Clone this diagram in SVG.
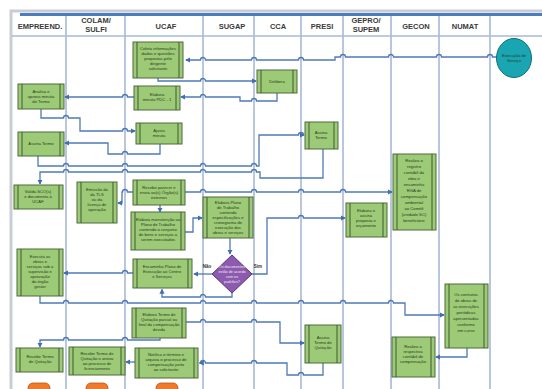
<svg xmlns="http://www.w3.org/2000/svg" width="542" height="389" viewBox="0 0 542 389">
<defs>
<style>
.lane{stroke:#a7bad6;stroke-width:1.6;fill:none}
.hd{font-family:"Liberation Sans",Arial,sans-serif;font-size:7.5px;font-weight:bold;fill:#3a3a3a;text-anchor:middle}
.box{fill:#9cca76;stroke:#4f6b3c;stroke-width:1}
.bar{stroke:#3f5a2f;stroke-width:1}
.t{font-family:"Liberation Sans",Arial,sans-serif;font-size:4.2px;fill:#2a3a20;text-anchor:middle}
.dt{font-family:"Liberation Sans",Arial,sans-serif;font-size:3.8px;fill:#efe6f5;text-anchor:middle}
.c{stroke:#4f79b5;stroke-width:1.3;fill:none;marker-end:url(#ah)}
.lbl{font-family:"Liberation Sans",Arial,sans-serif;font-size:4.5px;font-weight:bold;fill:#333;text-anchor:middle}
</style>
<marker id="ah" viewBox="0 0 6 6" refX="5" refY="3" markerWidth="4" markerHeight="4" orient="auto">
<path d="M0,0 L6,3 L0,6 z" fill="#3f6fb0"/>
</marker>
</defs>
<rect x="0" y="0" width="542" height="389" fill="#ffffff"/>
<!-- frame -->
<rect x="11" y="11" width="533" height="382" fill="#ffffff" stroke="#c9cdd3" stroke-width="3"/>
<line x1="20" y1="14.5" x2="542" y2="14.5" stroke="#4a7cc0" stroke-width="3"/>
<!-- swimlanes -->
<g id="lanes">
<path class="lane" d="M12,36 H542"/>
<path class="lane" d="M66,16 V389 M125,16 V389 M203,16 V389 M254,16 V389 M301,16 V389 M343,16 V389 M391,16 V389 M439,16 V389 M490,16 V389"/>
<text class="hd" x="40" y="29">EMPREEND.</text>
<text class="hd" x="96" y="23">COLAM/</text>
<text class="hd" x="96" y="32">SULFI</text>
<text class="hd" x="166" y="29">UCAF</text>
<text class="hd" x="232" y="29">SUGAP</text>
<text class="hd" x="278" y="29">CCA</text>
<text class="hd" x="322" y="29">PRESI</text>
<text class="hd" x="366" y="23">GEPRO/</text>
<text class="hd" x="366" y="32">SUPEM</text>
<text class="hd" x="416" y="29">GECON</text>
<text class="hd" x="465" y="29">NUMAT</text>
</g>
<!-- connectors (small arcs = line jumps over lane borders) -->
<g id="connectors">
<path class="c" d="M497,57 H492.5 a2.5,2.5 0 0 0 -5,0 H441.5 a2.5,2.5 0 0 0 -5,0 H393.5 a2.5,2.5 0 0 0 -5,0 H345.5 a2.5,2.5 0 0 0 -5,0 H335 V60 H303.5 a2.5,2.5 0 0 0 -5,0 H256.5 a2.5,2.5 0 0 0 -5,0 H205.5 a2.5,2.5 0 0 0 -5,0 H186"/>
<path class="c" d="M158,78 V81 H200.5 a2.5,2.5 0 0 1 5,0 H256"/>
<path class="c" d="M277,93 V101 H256.5 a2.5,2.5 0 0 0 -5,0 H240 V97 H205.5 a2.5,2.5 0 0 0 -5,0 H181"/>
<path class="c" d="M134,97 H127.5 a2.5,2.5 0 0 0 -5,0 H65"/>
<path class="c" d="M41,107 V118 H63.5 a2.5,2.5 0 0 1 5,0 H80 V131 H122.5 a2.5,2.5 0 0 1 5,0 H135"/>
<path class="c" d="M160,144 V154 H127.5 a2.5,2.5 0 0 0 -5,0 H108 V143 H65"/>
<path class="c" d="M38,156 V166 H63.5 a2.5,2.5 0 0 1 5,0 H122.5 a2.5,2.5 0 0 1 5,0 H200.5 a2.5,2.5 0 0 1 5,0 H251.5 a2.5,2.5 0 0 1 5,0 H259 V135 H298.5 a2.5,2.5 0 0 1 5,0 H304"/>
<path class="c" d="M323,149 V178 H260 V172 H256.5 a2.5,2.5 0 0 0 -5,0 H205.5 a2.5,2.5 0 0 0 -5,0 H127.5 a2.5,2.5 0 0 0 -5,0 H68.5 a2.5,2.5 0 0 0 -5,0 H40 V184"/>
<path class="c" d="M133,192 H127.5 a2.5,2.5 0 0 0 -5,0 H122 V203 H118"/>
<path class="c" d="M185,192 H200.5 a2.5,2.5 0 0 1 5,0 H251.5 a2.5,2.5 0 0 1 5,0 H298.5 a2.5,2.5 0 0 1 5,0 H340.5 a2.5,2.5 0 0 1 5,0 H392"/>
<path class="c" d="M160,205 V212"/>
<path class="c" d="M183,232 H193 V218 H202"/>
<path class="c" d="M230,238 V254"/>
<path class="c" d="M212,274 H194"/>
<path class="c" d="M252,274 H267 V218 H298.5 a2.5,2.5 0 0 1 5,0 H345"/>
<path class="c" d="M232,293 V297 H205.5 a2.5,2.5 0 0 0 -5,0 H162 V289.5"/>
<path class="c" d="M133,273 H127.5 a2.5,2.5 0 0 0 -5,0 H64"/>
<path class="c" d="M40,296 V303 H63.5 a2.5,2.5 0 0 1 5,0 H122.5 a2.5,2.5 0 0 1 5,0 H200.5 a2.5,2.5 0 0 1 5,0 H251.5 a2.5,2.5 0 0 1 5,0 H298.5 a2.5,2.5 0 0 1 5,0 H340.5 a2.5,2.5 0 0 1 5,0 H388.5 a2.5,2.5 0 0 1 5,0 H405 V315 H444"/>
<path class="c" d="M186,322 H200.5 a2.5,2.5 0 0 1 5,0 H251.5 a2.5,2.5 0 0 1 5,0 H280 V343 H304"/>
<path class="c" d="M323,363 V375 H303.5 a2.5,2.5 0 0 0 -5,0 H287 V363 H256.5 a2.5,2.5 0 0 0 -5,0 H205.5 a2.5,2.5 0 0 0 -5,0 H199.5"/>
<path class="c" d="M135,362 H126"/>
<path class="c" d="M160,338 V340 H127.5 a2.5,2.5 0 0 0 -5,0 H68.5 a2.5,2.5 0 0 0 -5,0 H40 V347"/>
<path class="c" d="M467,348 V357 H436"/>
<text class="lbl" x="207" y="268">Não</text>
<text class="lbl" x="258" y="268">Sim</text>
</g>
<!-- start event -->
<g id="n_inicio">
<ellipse cx="514" cy="58" rx="17.5" ry="19.5" fill="#1aa5b3" stroke="#0f6f7a" stroke-width="1"/>
<text class="t" x="514" y="57">Execução de</text>
<text class="t" x="514" y="62">Serviço</text>
</g>
<g id="n_coleta">
<rect class="box" x="133" y="42" width="50" height="36"/>
<path class="bar" d="M137,42 V78 M179,42 V78"/>
<text class="t" x="158" y="50">Coleta informações</text>
<text class="t" x="158" y="55">dados e questões</text>
<text class="t" x="158" y="60">propostas pelo</text>
<text class="t" x="158" y="65">dirigente</text>
<text class="t" x="158" y="70">solicitante</text>
</g>
<g id="n_delibera">
<rect class="box" x="257" y="70" width="40" height="23"/>
<path class="bar" d="M261,70 V93 M293,70 V93"/>
<text class="t" x="277" y="83">Delibera</text>
</g>
<g id="n_minuta">
<rect class="box" x="134" y="86" width="46" height="24"/>
<path class="bar" d="M138,86 V110 M176,86 V110"/>
<text class="t" x="157" y="96">Elabora</text>
<text class="t" x="157" y="101">minuta PDC - 1</text>
</g>
<g id="n_analisa">
<rect class="box" x="18" y="84" width="46" height="25"/>
<path class="bar" d="M22,84 V109 M60,84 V109"/>
<text class="t" x="41" y="93">Analisa e</text>
<text class="t" x="41" y="98">aprova minuta</text>
<text class="t" x="41" y="103">do Termo</text>
</g>
<g id="n_ajusta">
<rect class="box" x="136" y="123" width="46" height="21"/>
<path class="bar" d="M140,123 V144 M178,123 V144"/>
<text class="t" x="159" y="132">Ajusta</text>
<text class="t" x="159" y="137">minuta</text>
</g>
<g id="n_assina_emp">
<rect class="box" x="18" y="132" width="46" height="24"/>
<path class="bar" d="M22,132 V156 M60,132 V156"/>
<text class="t" x="41" y="145">Assina Termo</text>
</g>
<g id="n_assina_presi">
<rect class="box" x="305" y="122" width="33" height="27"/>
<path class="bar" d="M309,122 V149 M334,122 V149"/>
<text class="t" x="321" y="134">Assina</text>
<text class="t" x="321" y="139">Termo</text>
</g>
<g id="n_valida">
<rect class="box" x="14" y="185" width="49" height="24"/>
<path class="bar" d="M18,185 V209 M59,185 V209"/>
<text class="t" x="38" y="193">Valida SCO(s)</text>
<text class="t" x="38" y="198">e documenta à</text>
<text class="t" x="38" y="203">UCAF</text>
</g>
<g id="n_emissao">
<rect class="box" x="77" y="182" width="40" height="41"/>
<path class="bar" d="M81,182 V223 M113,182 V223"/>
<text class="t" x="97" y="191">Emissão da</text>
<text class="t" x="97" y="196">da TLS</text>
<text class="t" x="97" y="201">ou da</text>
<text class="t" x="97" y="206">licença de</text>
<text class="t" x="97" y="211">operação</text>
</g>
<g id="n_recebe">
<rect class="box" x="133" y="180" width="52" height="25"/>
<path class="bar" d="M137,180 V205 M181,180 V205"/>
<text class="t" x="159" y="189">Recebe parecer e</text>
<text class="t" x="159" y="194">envia ao(s) Órgão(s)</text>
<text class="t" x="159" y="199">externos</text>
</g>
<g id="n_plano">
<rect class="box" x="131" y="212" width="54" height="38"/>
<path class="bar" d="M135,212 V250 M181,212 V250"/>
<text class="t" x="158" y="221">Elabora manutenção ao</text>
<text class="t" x="158" y="226">Plano de Trabalho</text>
<text class="t" x="158" y="231">contendo o conjunto</text>
<text class="t" x="158" y="236">de bens e serviços a</text>
<text class="t" x="158" y="241">serem executados</text>
</g>
<g id="n_sugap">
<rect class="box" x="203" y="197" width="50" height="41"/>
<path class="bar" d="M207,197 V238 M249,197 V238"/>
<text class="t" x="228" y="204">Elabora Plano</text>
<text class="t" x="228" y="209">de Trabalho</text>
<text class="t" x="228" y="214">contendo</text>
<text class="t" x="228" y="219">especificações e</text>
<text class="t" x="228" y="224">cronograma de</text>
<text class="t" x="228" y="229">execução das</text>
<text class="t" x="228" y="234">obras e serviços</text>
</g>
<g id="n_decisao">
<path d="M232,255 L252,274 L232,293 L212,274 Z" fill="#8c5aae" stroke="#5e3478" stroke-width="1"/>
<text class="dt" x="232" y="268">Os documentos</text>
<text class="dt" x="232" y="273">estão de acordo</text>
<text class="dt" x="232" y="278">com os</text>
<text class="dt" x="232" y="283">padrões?</text>
</g>
<g id="n_encaminha">
<rect class="box" x="133" y="259" width="59" height="29"/>
<path class="bar" d="M137,259 V288 M188,259 V288"/>
<text class="t" x="162" y="268">Encaminha Plano de</text>
<text class="t" x="162" y="273">Execução ao Centro</text>
<text class="t" x="162" y="278">e Serviços</text>
</g>
<g id="n_executa">
<rect class="box" x="17" y="249" width="46" height="47"/>
<path class="bar" d="M21,249 V296 M59,249 V296"/>
<text class="t" x="40" y="258">Executa as</text>
<text class="t" x="40" y="263">obras e</text>
<text class="t" x="40" y="268">serviços sob a</text>
<text class="t" x="40" y="273">supervisão e</text>
<text class="t" x="40" y="278">aprovação</text>
<text class="t" x="40" y="283">do órgão</text>
<text class="t" x="40" y="288">gestor</text>
</g>
<g id="n_gepro">
<rect class="box" x="346" y="203" width="41" height="34"/>
<path class="bar" d="M350,203 V237 M383,203 V237"/>
<text class="t" x="366" y="212">Elabora e</text>
<text class="t" x="366" y="217">assina</text>
<text class="t" x="366" y="222">proposta e</text>
<text class="t" x="366" y="227">orçamento</text>
</g>
<g id="n_gecon">
<rect class="box" x="393" y="154" width="43" height="76"/>
<path class="bar" d="M397,154 V230 M432,154 V230"/>
<text class="t" x="414" y="162">Realiza o</text>
<text class="t" x="414" y="168">registro</text>
<text class="t" x="414" y="174">contábil da</text>
<text class="t" x="414" y="180">obra e</text>
<text class="t" x="414" y="186">encaminha</text>
<text class="t" x="414" y="192">RGA de</text>
<text class="t" x="414" y="198">compensação</text>
<text class="t" x="414" y="204">ambiental</text>
<text class="t" x="414" y="210">ao Comitê</text>
<text class="t" x="414" y="216">(unidade SC)</text>
<text class="t" x="414" y="222">beneficiário</text>
</g>
<g id="n_termo_quit">
<rect class="box" x="132" y="308" width="54" height="30"/>
<path class="bar" d="M136,308 V338 M182,308 V338"/>
<text class="t" x="159" y="316">Elabora Termo de</text>
<text class="t" x="159" y="321">Quitação parcial ou</text>
<text class="t" x="159" y="326">final da compensação</text>
<text class="t" x="159" y="331">devida</text>
</g>
<g id="n_numat">
<rect class="box" x="445" y="284" width="43" height="64"/>
<path class="bar" d="M449,284 V348 M484,284 V348"/>
<text class="t" x="466" y="296">Os contratos</text>
<text class="t" x="466" y="302">de obras de</text>
<text class="t" x="466" y="308">as execuções</text>
<text class="t" x="466" y="314">periódicas</text>
<text class="t" x="466" y="320">apresentadas</text>
<text class="t" x="466" y="326">conforme</text>
<text class="t" x="466" y="332">em curso</text>
</g>
<g id="n_presi_quit">
<rect class="box" x="305" y="325" width="36" height="38"/>
<path class="bar" d="M309,325 V363 M337,325 V363"/>
<text class="t" x="323" y="339">Assina</text>
<text class="t" x="323" y="344">Termo de</text>
<text class="t" x="323" y="349">Quitação</text>
</g>
<g id="n_gecon_reg">
<rect class="box" x="392" y="337" width="43" height="40"/>
<path class="bar" d="M396,337 V377 M431,337 V377"/>
<text class="t" x="413" y="348">Realiza a</text>
<text class="t" x="413" y="353">respectiva</text>
<text class="t" x="413" y="358">contábil de</text>
<text class="t" x="413" y="363">compensação</text>
</g>
<g id="n_recebe_emp">
<rect class="box" x="16" y="348" width="47" height="24"/>
<path class="bar" d="M20,348 V372 M59,348 V372"/>
<text class="t" x="40" y="358">Recebe Termo</text>
<text class="t" x="40" y="363">de Quitação</text>
</g>
<g id="n_recebe_colam">
<rect class="box" x="69" y="347" width="56" height="28"/>
<path class="bar" d="M73,347 V375 M121,347 V375"/>
<text class="t" x="97" y="355">Recebe Termo de</text>
<text class="t" x="97" y="360">Quitação e anexa</text>
<text class="t" x="97" y="365">ao processo de</text>
<text class="t" x="97" y="370">licenciamento</text>
</g>
<g id="n_notifica">
<rect class="box" x="135" y="348" width="63" height="30"/>
<path class="bar" d="M139,348 V378 M194,348 V378"/>
<text class="t" x="166" y="356">Notifica o término e</text>
<text class="t" x="166" y="361">arquiva o processo de</text>
<text class="t" x="166" y="366">compensação junto</text>
<text class="t" x="166" y="371">ao solicitante</text>
</g>
<g id="n_fim">
<rect x="28" y="383" width="22" height="10" rx="5" fill="#f07a2a" stroke="#b8551a" stroke-width="0.8"/>
<rect x="86" y="383" width="22" height="10" rx="5" fill="#f07a2a" stroke="#b8551a" stroke-width="0.8"/>
<rect x="156" y="383" width="22" height="10" rx="5" fill="#f07a2a" stroke="#b8551a" stroke-width="0.8"/>
</g>
</svg>
